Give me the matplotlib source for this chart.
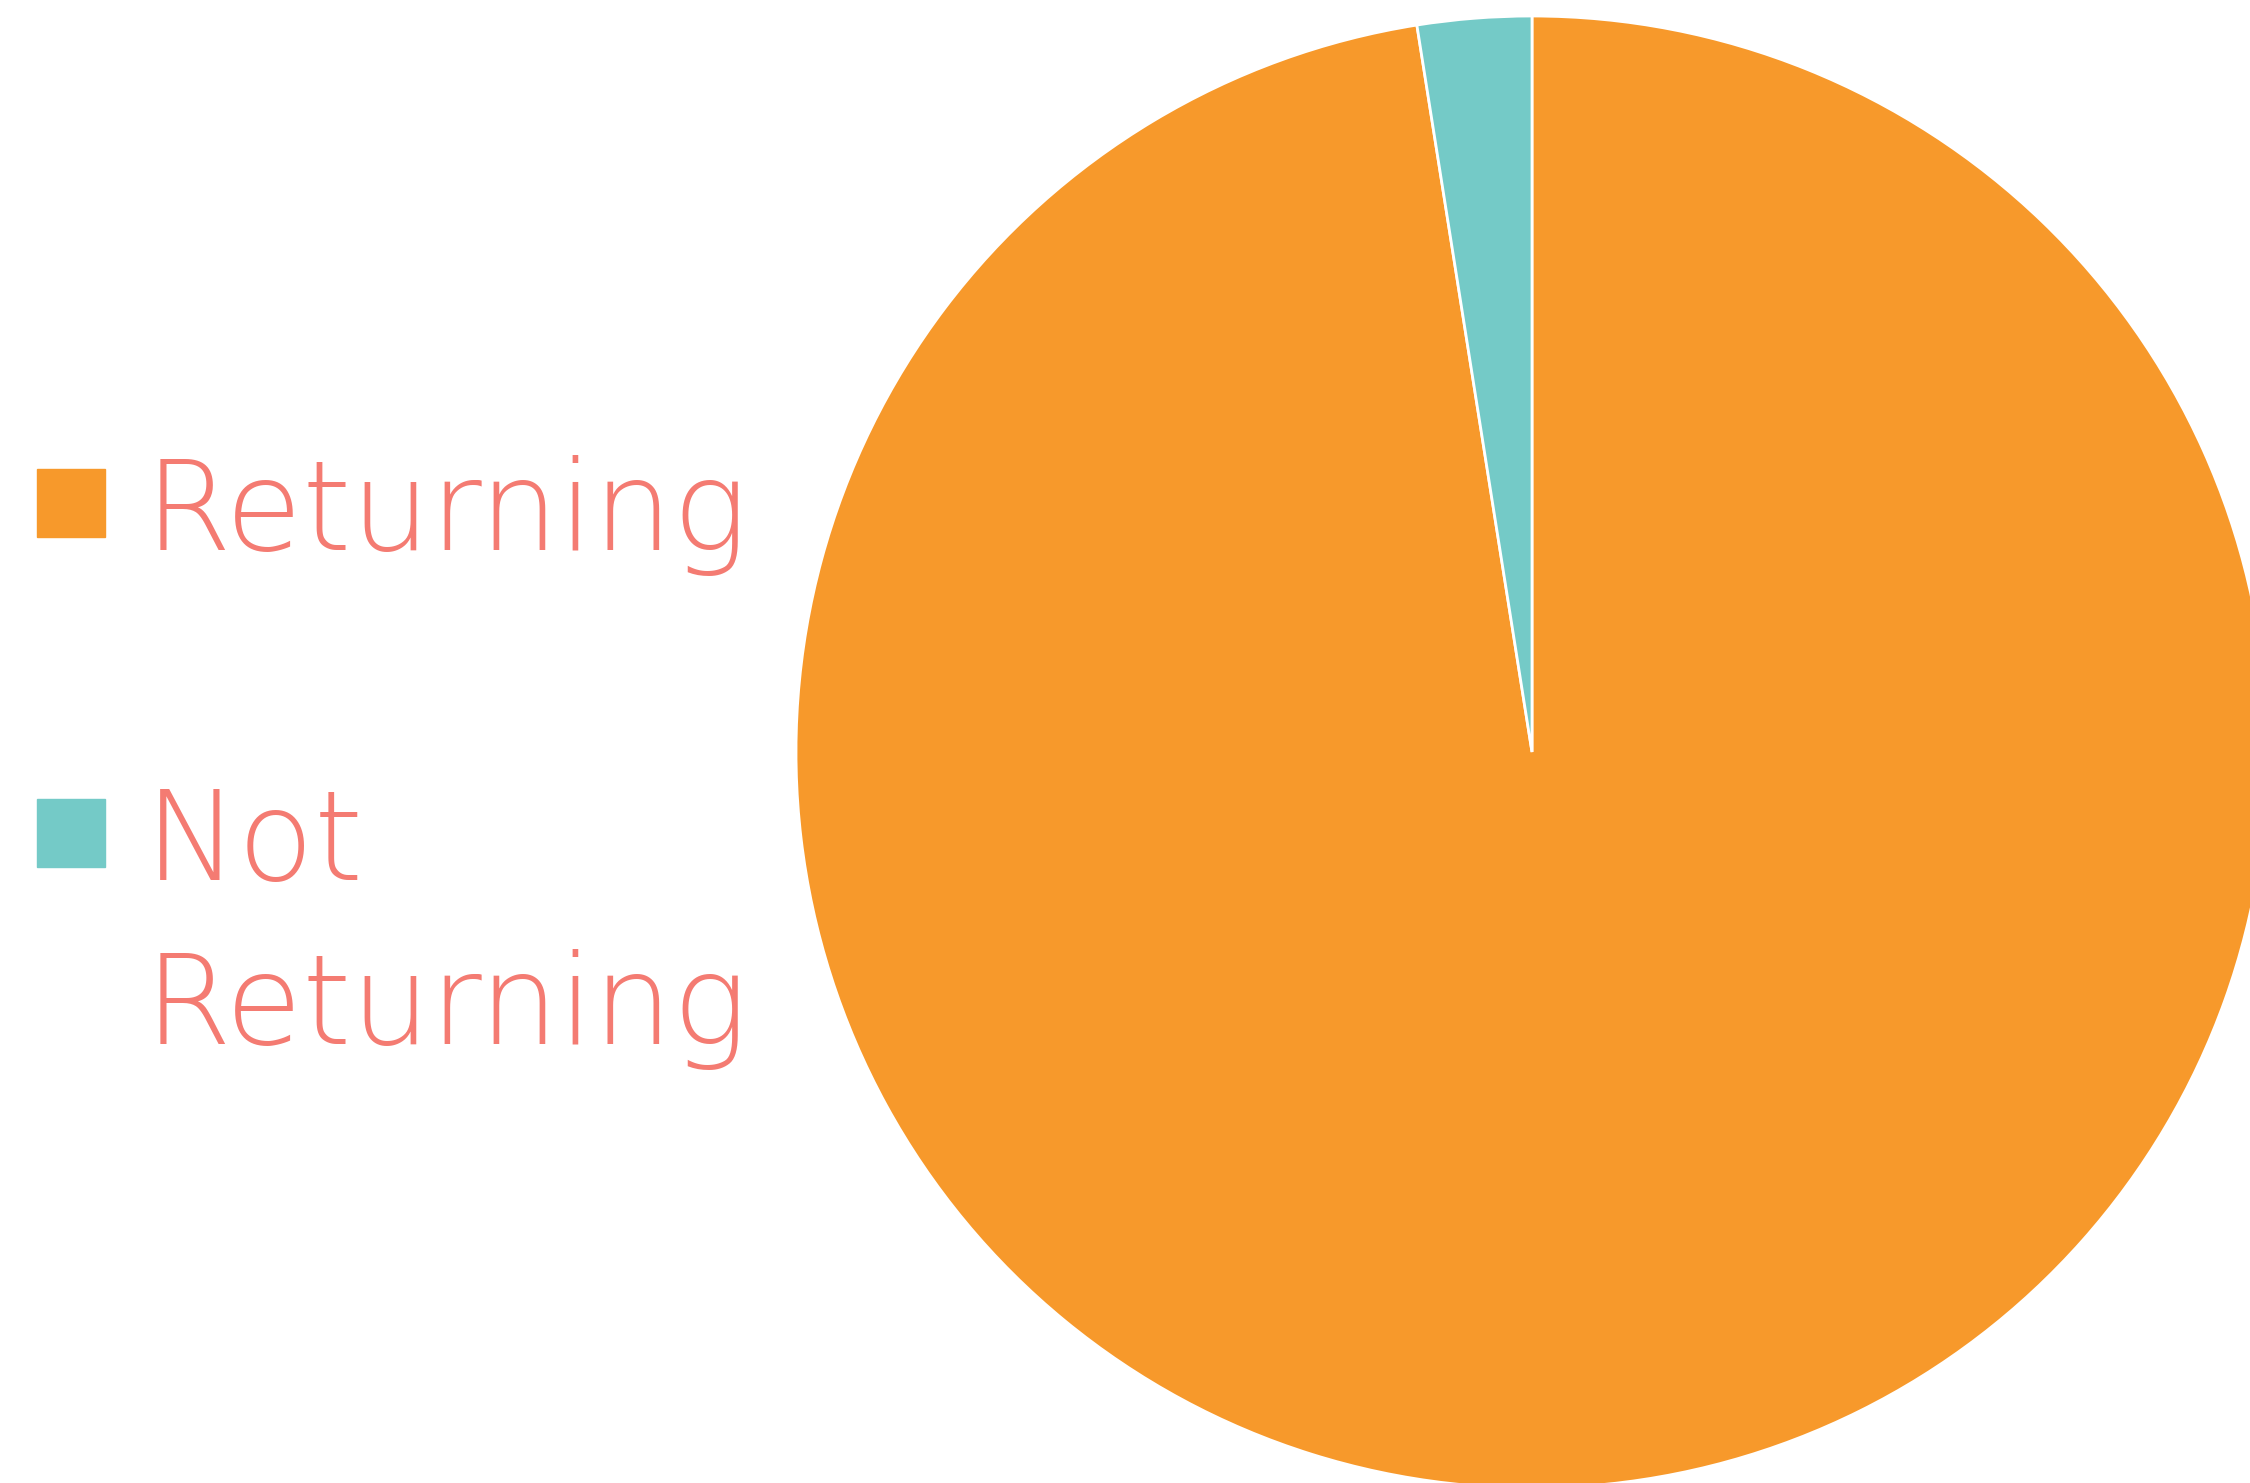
import matplotlib.pyplot as plt
from matplotlib.patches import Rectangle

# data
labels = ["Returning", "Not Returning"]
shares = [97.5, 2.5]
colors = ["#F7992B", "#74CAC7"]
text_color = "#F47B72"

W, H = 2250, 1483
fig = plt.figure(figsize=(W / 100, H / 100), dpi=100)

# pie axes: centre (1532, 752) px from top-left, radius 736 px
cx, cy, r = 1532, 752, 736
ax = fig.add_axes([(cx - r) / W, (H - cy - r) / H, 2 * r / W, 2 * r / H])
ax.pie(shares, colors=colors, startangle=90, counterclock=False,
       wedgeprops=dict(edgecolor="white", linewidth=2))
ax.set_xlim(-1, 1)
ax.set_ylim(-1, 1)
ax.set_aspect("auto")
ax.axis("off")

# legend drawn by hand
first_baseline = [550, 880]
line_gap = 164
for lab, col, base in zip(labels, colors, first_baseline):
    mid = base - 47
    fig.add_artist(Rectangle((37 / W, (H - mid - 34) / H), 68 / W, 68 / H,
                             transform=fig.transFigure, color=col))
    for i, word in enumerate(lab.split(" ")):
        y = base + i * line_gap
        fig.text(145 / W, (H - y) / H, word, fontsize=90, color=text_color,
                 va="baseline", ha="left", family="DejaVu Sans",
                 weight="light")

fig.savefig("out.png", dpi=100)
